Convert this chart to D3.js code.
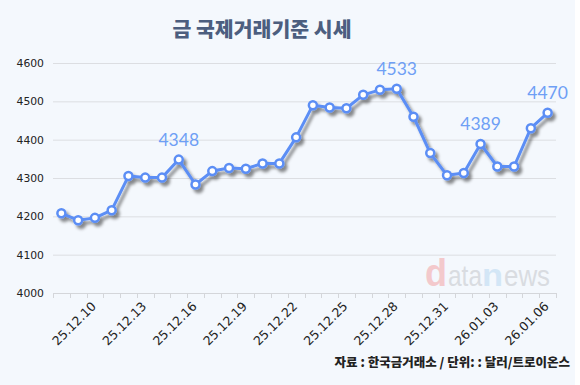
<!DOCTYPE html>
<html><head><meta charset="utf-8">
<script src="https://cdn.jsdelivr.net/npm/d3@7"></script>
<style>
html,body{margin:0;padding:0;background:#fff;}
svg{display:block;}
</style></head>
<body>
<svg id="c" width="580" height="385"></svg>
<script>
const dates = ["25.12.08","25.12.09","25.12.10","25.12.11","25.12.12","25.12.13","25.12.14","25.12.15","25.12.16","25.12.17","25.12.18","25.12.19","25.12.20","25.12.21","25.12.22","25.12.23","25.12.24","25.12.25","25.12.26","25.12.27","25.12.28","25.12.29","25.12.30","25.12.31","26.01.01","26.01.02","26.01.03","26.01.04","26.01.05","26.01.06"];
const prices = [4208,4190,4196,4216,4305,4301,4301,4348,4283,4318,4326,4324,4338,4338,4406,4490,4484,4482,4517,4530,4533,4460,4365,4307,4313,4389,4330,4330,4430,4470];
const shownLabels = ["25.12.10","25.12.13","25.12.16","25.12.19","25.12.22","25.12.25","25.12.28","25.12.31","26.01.03","26.01.06"];
const yTicks = [4000,4100,4200,4300,4400,4500,4600];
const annotated = [7,20,25,29];
const title = "금 국제거래기준 시세";
const source = "자료 : 한국금거래소 / 단위: : 달러/트로이온스";

const svg = d3.select("#c");
svg.append("rect").attr("width",575).attr("height",385).attr("fill","#f4f8fd");

const defs = svg.append("defs");
const f = defs.append("filter").attr("id","sh").attr("x","-10%").attr("y","-10%").attr("width","130%").attr("height","130%");
f.append("feDropShadow").attr("dx",3).attr("dy",3.5).attr("stdDeviation",1.8).attr("flood-color","#000").attr("flood-opacity",0.45);

const x = d3.scaleBand().domain(dates).range([53,556]);
const y = d3.scaleLinear().domain([4000,4600]).range([293,63]);
const cx = d => x(d) + x.bandwidth()/2;

svg.append("text").attr("x",262).attr("y",37).attr("text-anchor","middle")
  .attr("font-family","'Noto Sans CJK KR'").attr("font-weight",900).attr("font-size",20.5)
  .attr("fill","#4c5e7f").text(title);

// grid
svg.append("g").selectAll("line").data(yTicks.slice(1)).join("line")
  .attr("x1",53).attr("x2",556).attr("y1",d=>y(d)+0.5).attr("y2",d=>y(d)+0.5)
  .attr("stroke","#dcdee2").attr("stroke-width",1);

// y labels
svg.append("g").selectAll("text").data(yTicks).join("text")
  .attr("x",44).attr("y",d=>y(d)+4).attr("text-anchor","end")
  .attr("font-family","'DejaVu Sans'").attr("font-size",10.8).attr("fill","#222")
  .text(d=>d);

// watermark
const wmParts = [
  {t:"d", x:425, w:22, fs:38, fw:"900", c:"#f3c9cc"},
  {t:"ata", x:448, w:34, fs:30, fw:"normal", c:"#d9dce1"},
  {t:"n", x:482, w:21, fs:31, fw:"900", c:"#d3e6f6"},
  {t:"ews", x:504, w:46, fs:30, fw:"normal", c:"#d9dce1"}
];
svg.append("text").attr("y",286).attr("font-family","'Liberation Sans'")
  .selectAll("tspan").data(wmParts).join("tspan")
  .attr("x",p=>p.x).attr("font-size",p=>p.fs).attr("font-weight",p=>p.fw).attr("fill",p=>p.c)
  .attr("textLength",p=>p.w).attr("lengthAdjust","spacingAndGlyphs").text(p=>p.t);

// x axis
const xg = svg.append("g");
xg.append("line").attr("x1",53).attr("x2",556).attr("y1",293.5).attr("y2",293.5).attr("stroke","#d4d6da");
xg.selectAll("line.t").data(d3.range(dates.length+1)).join("line").attr("class","t")
  .attr("x1",i=>Math.round(53+i*x.step())+0.5).attr("x2",i=>Math.round(53+i*x.step())+0.5)
  .attr("y1",293).attr("y2",298).attr("stroke","#d4d6da");
xg.selectAll("text").data(shownLabels).join("text")
  .attr("transform",d=>`translate(${cx(d)+2},307) rotate(-45)`)
  .attr("text-anchor","end").attr("font-family","'DejaVu Sans'").attr("font-size",12.5)
  .attr("fill","#222").text(d=>d);

// line
const data = dates.map((d,i)=>({d, v:prices[i], i}));
const g = svg.append("g").attr("filter","url(#sh)");
g.append("path").datum(data)
  .attr("d", d3.line().x(p=>cx(p.d)).y(p=>y(p.v)))
  .attr("fill","none").attr("stroke","#5b8ef5").attr("stroke-width",3).attr("stroke-linejoin","round");
g.selectAll("circle").data(data).join("circle")
  .attr("cx",p=>cx(p.d)).attr("cy",p=>y(p.v)).attr("r",4)
  .attr("fill","#fff").attr("stroke","#5b8ef5").attr("stroke-width",2.5);

// annotations
svg.append("g").selectAll("text").data(annotated.map(i=>data[i])).join("text")
  .attr("x",p=>cx(p.d)).attr("y",p=>y(p.v)-14).attr("text-anchor","middle")
  .attr("font-family","Lato").attr("font-weight",400).attr("font-size",17.5)
  .attr("fill","#6e9ff5").text(p=>p.v);

// source
svg.append("text").attr("x",570).attr("y",367).attr("text-anchor","end")
  .attr("font-family","'Noto Sans CJK KR'").attr("font-weight",900).attr("font-size",12.5)
  .attr("fill","#222").text(source);
</script>
</body></html>
